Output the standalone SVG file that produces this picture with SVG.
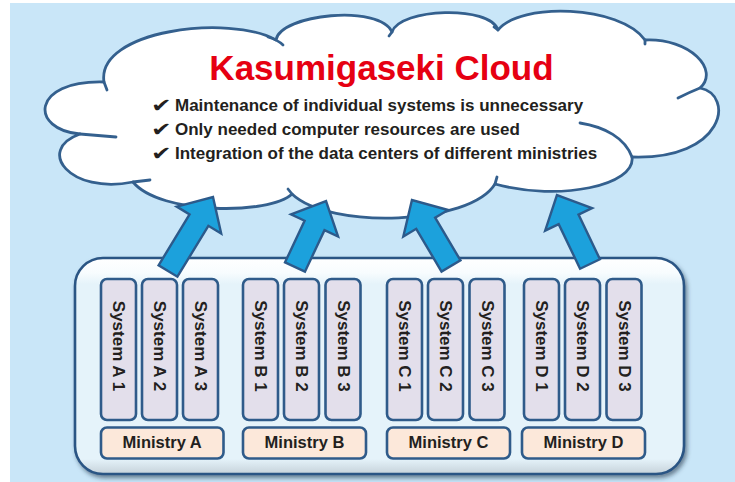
<svg xmlns="http://www.w3.org/2000/svg" width="735" height="482" viewBox="0 0 735 482">
  <defs>
    <style>
      .cloud { fill: #ffffff; stroke: #34608e; stroke-width: 2.8; stroke-linejoin: round; }
      .hook { fill: none; stroke: #34608e; stroke-width: 2.8; stroke-linecap: round; }
      .sys { fill: #e3dfeb; stroke: #2f5b8a; stroke-width: 2.6; }
      .min { fill: #fce8da; stroke: #2f5b8a; stroke-width: 2.6; }
      .arrow { fill: #1ca1dc; stroke: #2c5a8b; stroke-width: 2.4; stroke-linejoin: miter; }
      .systxt { font-family: "Liberation Sans", Arial, sans-serif; font-weight: bold; font-size: 17px; fill: #231f20; text-anchor: middle; }
      .mintxt { font-family: "Liberation Sans", Arial, sans-serif; font-weight: bold; font-size: 16.5px; fill: #231f20; text-anchor: middle; }
      .title { font-family: "Liberation Sans", Arial, sans-serif; font-weight: bold; font-size: 35px; fill: #e60012; text-anchor: middle; }
      .bullet { font-family: "Liberation Sans", Arial, sans-serif; font-weight: bold; font-size: 17px; fill: #231f20; }
      .check { font-family: "DejaVu Sans", sans-serif; font-size: 19px; fill: #231f20; }
    </style>
    <linearGradient id="panelFill" x1="0" y1="0" x2="0" y2="1">
      <stop offset="0" stop-color="#ffffff"/>
      <stop offset="0.07" stop-color="#f7fcfe"/>
      <stop offset="0.12" stop-color="#e5f3fa"/>
      <stop offset="0.93" stop-color="#e5f3fa"/>
      <stop offset="1" stop-color="#c6d2da"/>
    </linearGradient>
    <filter id="shadow" x="-5%" y="-5%" width="110%" height="115%">
      <feGaussianBlur in="SourceAlpha" stdDeviation="2"/>
      <feOffset dx="2" dy="3" result="b"/>
      <feFlood flood-color="#1d2f44" flood-opacity="0.55"/>
      <feComposite in2="b" operator="in"/>
      <feMerge><feMergeNode/><feMergeNode in="SourceGraphic"/></feMerge>
    </filter>
  </defs>

  <rect x="10" y="3" width="725" height="479" fill="#c9e6f8"/>

  <g id="cloud">
    <path class="cloud" d="M104,82 C96,30 230,14 276,40 C280,14 380,4 392,32 C400,8 490,5 498,30 C520,2 620,5 645,40 C690,38 720,70 700,88 C735,95 725,160 632,157 C636,185 560,202 495,184 C470,225 330,230 292,194 C270,215 160,215 133,182 C70,195 35,150 80,134 C30,130 30,80 104,82 Z"/>
    <path class="hook" d="M104,82 L107,90"/>
    <path class="hook" d="M268,37 Q278,40 283,45"/>
    <path class="hook" d="M392,32 L389,36"/>
    <path class="hook" d="M498,30 L494,27"/>
    <path class="hook" d="M645,40 L645,44"/>
    <path class="hook" d="M700,88 Q690,92 678,98"/>
    <path class="hook" d="M580,123 C605,127 625,138 632,157"/>
    <path class="hook" d="M495,184 L497,177"/>
    <path class="hook" d="M292,194 L288,189"/>
    <path class="hook" d="M133,182 L150,180"/>
    <path class="hook" d="M80,134 L116,137"/>
    <text class="title" x="381.5" y="79.5">Kasumigaseki Cloud</text>
    <text class="check" transform="translate(151,112) scale(1.3,1)">✔</text>
    <text class="bullet" x="175" y="111">Maintenance of individual systems is unnecessary</text>
    <text class="check" transform="translate(151,136) scale(1.3,1)">✔</text>
    <text class="bullet" x="175" y="135">Only needed computer resources are used</text>
    <text class="check" transform="translate(151,160) scale(1.3,1)">✔</text>
    <text class="bullet" x="175" y="159">Integration of the data centers of different ministries</text>
  </g>

  <g id="panel">
    <rect x="75" y="258" width="609" height="216" rx="28" fill="url(#panelFill)" stroke="#2b5584" stroke-width="2.6" filter="url(#shadow)"/>
  </g>

  <g id="ministry-a">
    <rect class="sys" x="101" y="279" width="35" height="141" rx="6"/>
    <text class="systxt" transform="translate(118.5,346) rotate(90)" x="0" y="5.5">System A 1</text>
    <rect class="sys" x="142" y="279" width="35" height="141" rx="6"/>
    <text class="systxt" transform="translate(159.5,346) rotate(90)" x="0" y="5.5">System A 2</text>
    <rect class="sys" x="183" y="279" width="35" height="141" rx="6"/>
    <text class="systxt" transform="translate(200.5,346) rotate(90)" x="0" y="5.5">System A 3</text>
    <rect class="min" x="101" y="427.5" width="122.5" height="31" rx="6"/>
    <text class="mintxt" x="162.2" y="448.3">Ministry A</text>
  </g>

  <g id="ministry-b">
    <rect class="sys" x="243" y="279" width="35" height="141" rx="6"/>
    <text class="systxt" transform="translate(260.5,346) rotate(90)" x="0" y="5.5">System B 1</text>
    <rect class="sys" x="284" y="279" width="35" height="141" rx="6"/>
    <text class="systxt" transform="translate(301.5,346) rotate(90)" x="0" y="5.5">System B 2</text>
    <rect class="sys" x="325.5" y="279" width="35" height="141" rx="6"/>
    <text class="systxt" transform="translate(343,346) rotate(90)" x="0" y="5.5">System B 3</text>
    <rect class="min" x="243" y="427.5" width="123" height="31" rx="6"/>
    <text class="mintxt" x="304.5" y="448.3">Ministry B</text>
  </g>

  <g id="ministry-c">
    <rect class="sys" x="387" y="279" width="35" height="141" rx="6"/>
    <text class="systxt" transform="translate(404.5,346) rotate(90)" x="0" y="5.5">System C 1</text>
    <rect class="sys" x="428" y="279" width="35" height="141" rx="6"/>
    <text class="systxt" transform="translate(445.5,346) rotate(90)" x="0" y="5.5">System C 2</text>
    <rect class="sys" x="469.5" y="279" width="35" height="141" rx="6"/>
    <text class="systxt" transform="translate(487,346) rotate(90)" x="0" y="5.5">System C 3</text>
    <rect class="min" x="387" y="427.5" width="123" height="31" rx="6"/>
    <text class="mintxt" x="448.5" y="448.3">Ministry C</text>
  </g>

  <g id="ministry-d">
    <rect class="sys" x="524" y="279" width="35" height="141" rx="6"/>
    <text class="systxt" transform="translate(541.5,346) rotate(90)" x="0" y="5.5">System D 1</text>
    <rect class="sys" x="565" y="279" width="35" height="141" rx="6"/>
    <text class="systxt" transform="translate(582.5,346) rotate(90)" x="0" y="5.5">System D 2</text>
    <rect class="sys" x="606.5" y="279" width="35" height="141" rx="6"/>
    <text class="systxt" transform="translate(624,346) rotate(90)" x="0" y="5.5">System D 3</text>
    <rect class="min" x="522" y="427.5" width="123" height="31" rx="6"/>
    <text class="mintxt" x="583.5" y="448.3">Ministry D</text>
  </g>

  <g id="connectors">
    <polygon class="arrow" transform="translate(168,271) rotate(-58.7)" points="0,-11 59.6,-11 59.6,-26 86.6,0 59.6,26 59.6,11 0,11"/>
    <polygon class="arrow" transform="translate(295,267) rotate(-64.8)" points="0,-11 45.9,-11 45.9,-26 72.9,0 45.9,26 45.9,11 0,11"/>
    <polygon class="arrow" transform="translate(451,266) rotate(-120.6)" points="0,-11 49.7,-11 49.7,-26 76.7,0 49.7,26 49.7,11 0,11"/>
    <polygon class="arrow" transform="translate(590,264) rotate(-115.6)" points="0,-11 49.5,-11 49.5,-26 76.5,0 49.5,26 49.5,11 0,11"/>
  </g>
</svg>
